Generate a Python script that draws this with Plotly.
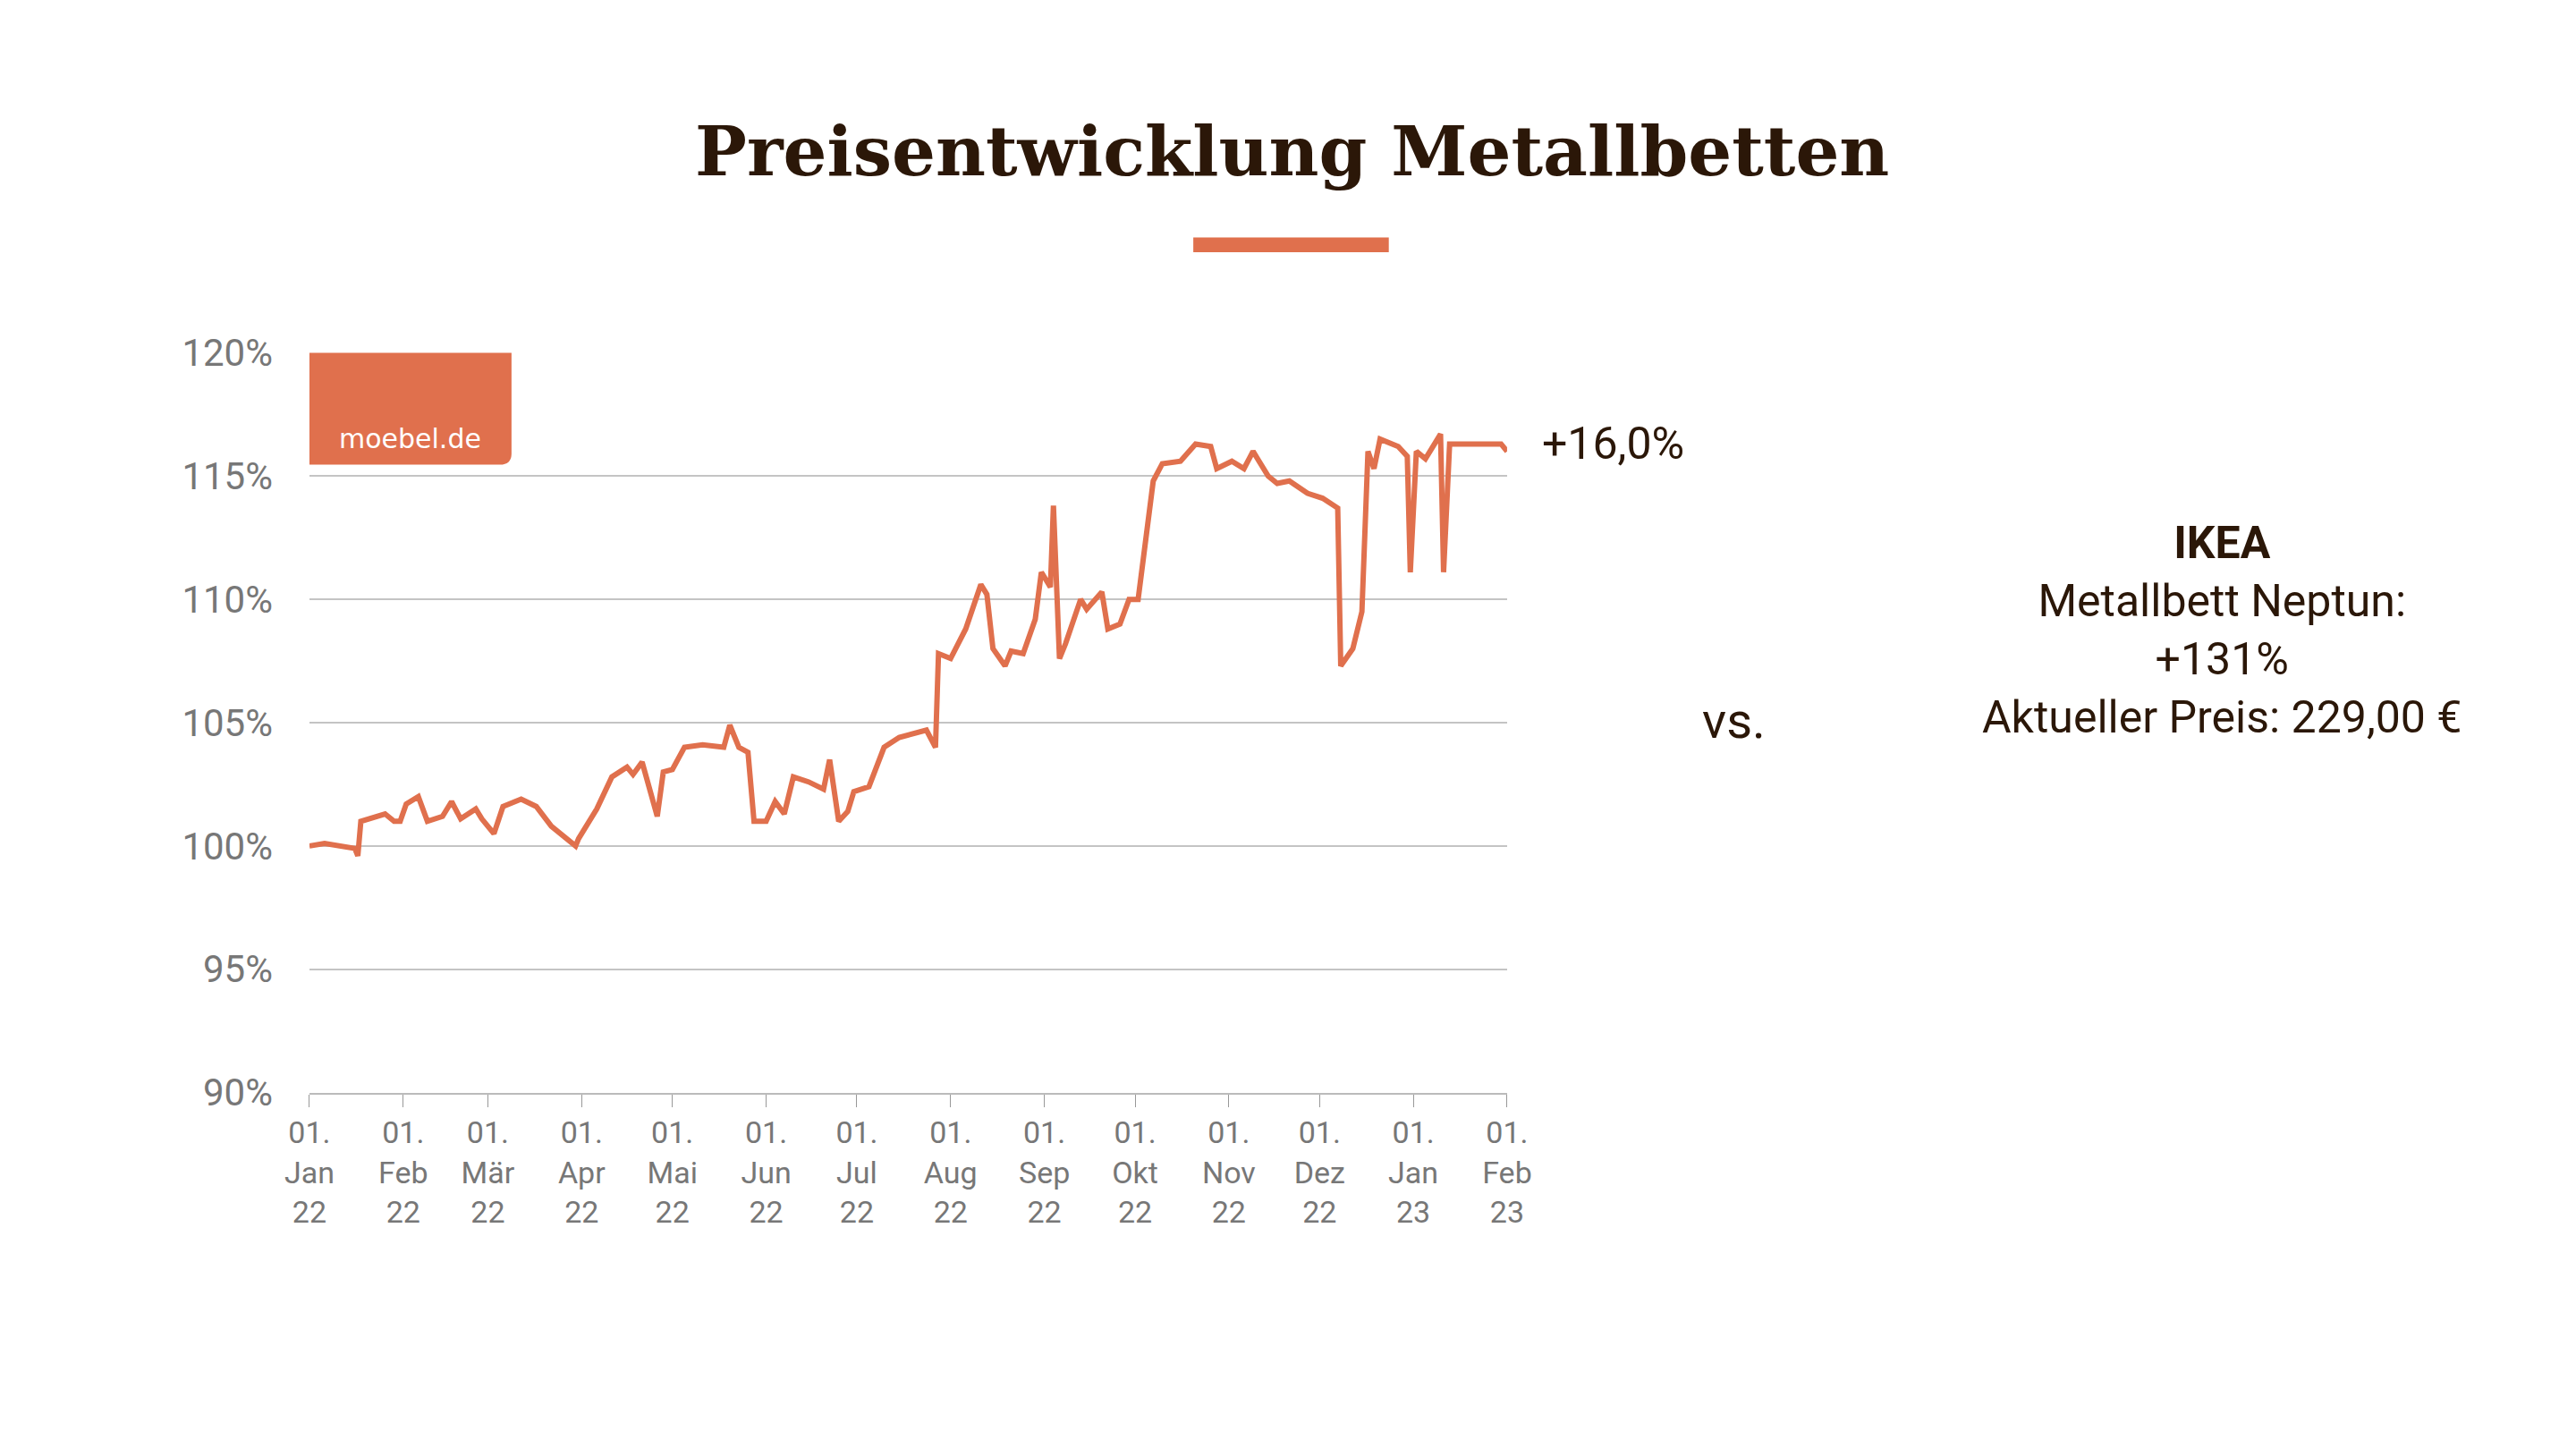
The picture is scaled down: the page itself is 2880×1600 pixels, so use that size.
import plotly.graph_objects as go
import datetime as dt

start = dt.date(2022, 1, 1)
day_offsets = [0,5,15,16,17,20,25,28,30,32,36,39,44,47,50,55,57,61,64,70,75,80,85,88,89,95,100,105,107,110,
               115,117,120,124,130,137,139,142,145,147,151,154,157,160,165,170,172,175,178,180,185,190,195,
               204,207,208,212,217,222,224,226,230,232,236,240,242,245,246,248,250,255,257,262,264,268,271,
               274,279,282,288,293,298,300,305,309,312,317,320,324,330,335,340,341,345,348,350,352,354,360,
               363,364,366,369,374,375,377,394,396]
values = [100.0,100.1,99.9,99.6,101.0,101.1,101.3,101.0,101.0,101.7,102.0,101.0,101.2,101.8,101.1,101.5,101.1,
          100.5,101.6,101.9,101.6,100.8,100.3,100.0,100.3,101.5,102.8,103.2,102.9,103.4,101.2,103.0,103.1,
          104.0,104.1,104.0,104.9,104.0,103.8,101.0,101.0,101.8,101.3,102.8,102.6,102.3,103.5,101.0,101.4,
          102.2,102.4,104.0,104.4,104.7,104.0,107.8,107.6,108.8,110.6,110.2,108.0,107.3,107.9,107.8,109.2,
          111.1,110.5,113.8,107.6,108.2,110.0,109.6,110.3,108.8,109.0,110.0,110.0,114.8,115.5,115.6,116.3,
          116.2,115.3,115.6,115.3,116.0,115.0,114.7,114.8,114.3,114.1,113.7,107.3,108.0,109.5,116.0,115.3,
          116.5,116.2,115.8,111.1,116.0,115.7,116.7,111.1,116.3,116.3,116.0]
dates = [start + dt.timedelta(days=d) for d in day_offsets]

tick_dates = ["2022-01-01","2022-02-01","2022-03-01","2022-04-01","2022-05-01","2022-06-01","2022-07-01",
              "2022-08-01","2022-09-01","2022-10-01","2022-11-01","2022-12-01","2023-01-01","2023-02-01"]
tick_labels = ["01.<br>Jan<br>22","01.<br>Feb<br>22","01.<br>Mär<br>22","01.<br>Apr<br>22","01.<br>Mai<br>22",
               "01.<br>Jun<br>22","01.<br>Jul<br>22","01.<br>Aug<br>22","01.<br>Sep<br>22","01.<br>Okt<br>22",
               "01.<br>Nov<br>22","01.<br>Dez<br>22","01.<br>Jan<br>23","01.<br>Feb<br>23"]
y_ticks = [90, 95, 100, 105, 110, 115, 120]
y_labels = ["90%", "95%", "100%", "105%", "110%", "115%", "120%"]

ORANGE = "#E0704D"
DARK = "#2B1708"
GRAY = "#777777"

def px(x):
    return (x - 2) / 1568

def py(y):
    return 1 - (y - 2) / 882

fig = go.Figure()
fig.add_trace(go.Scatter(x=dates, y=values, mode="lines",
                         line=dict(color=ORANGE, width=6), hoverinfo="skip"))

fig.update_layout(
    width=2880, height=1600,
    paper_bgcolor="white", plot_bgcolor="rgba(0,0,0,0)",
    showlegend=False,
    margin=dict(l=0, r=0, t=0, b=0, autoexpand=False),
    font=dict(family="Roboto", color=GRAY),
    xaxis=dict(domain=[px(186), px(915)], range=["2022-01-01", "2023-02-01"], automargin=False,
               tickvals=tick_dates, ticktext=tick_labels, tickfont=dict(size=34, color=GRAY),
               ticks="outside", ticklen=14, tickcolor="#999", showgrid=False,
               showline=True, linecolor="#bbb", linewidth=2, zeroline=False),
    yaxis=dict(domain=[py(671), py(215)], range=[90, 120], tickvals=y_ticks, ticktext=y_labels,
               automargin=False,
               tickfont=dict(size=42, color=GRAY), gridcolor="#c4c4c4", gridwidth=2,
               zeroline=False, ticks="", ticklabelstandoff=40, showline=False),
)

def note(text, x, y, size, family="Roboto", color=DARK, xanchor="center"):
    fig.add_annotation(text=text, x=px(x), y=py(y), xref="paper", yref="paper",
                       xanchor=xanchor, yanchor="middle", align="center", showarrow=False,
                       font=dict(family=family, size=size, color=color))

note("<b>Preisentwicklung Metallbetten</b>", 784, 91, 77, family="DejaVu Serif")
fig.add_shape(type="rect", xref="paper", yref="paper", x0=px(724), x1=px(843),
              y0=py(153), y1=py(144), fillcolor=ORANGE, line_width=0)
fig.add_shape(type="path", xref="paper", yref="paper", layer="below",
              path=f"M {px(186)},{py(215)} L {px(309)},{py(215)} L {px(309)},{py(277)} "
                   f"Q {px(309)},{py(284)} {px(302)},{py(284)} L {px(186)},{py(284)} Z",
              fillcolor=ORANGE, line_width=0)
note("moebel.de", 247, 268, 30, family="DejaVu Sans", color="white")
note("+16,0%", 935, 271, 50, xanchor="left")
note("vs.", 1053, 442, 56)
note("<b>IKEA</b><br>Metallbett Neptun:<br>+131%<br>Aktueller Preis: 229,00 €", 1350, 386, 50)

fig.write_html("out.html")
